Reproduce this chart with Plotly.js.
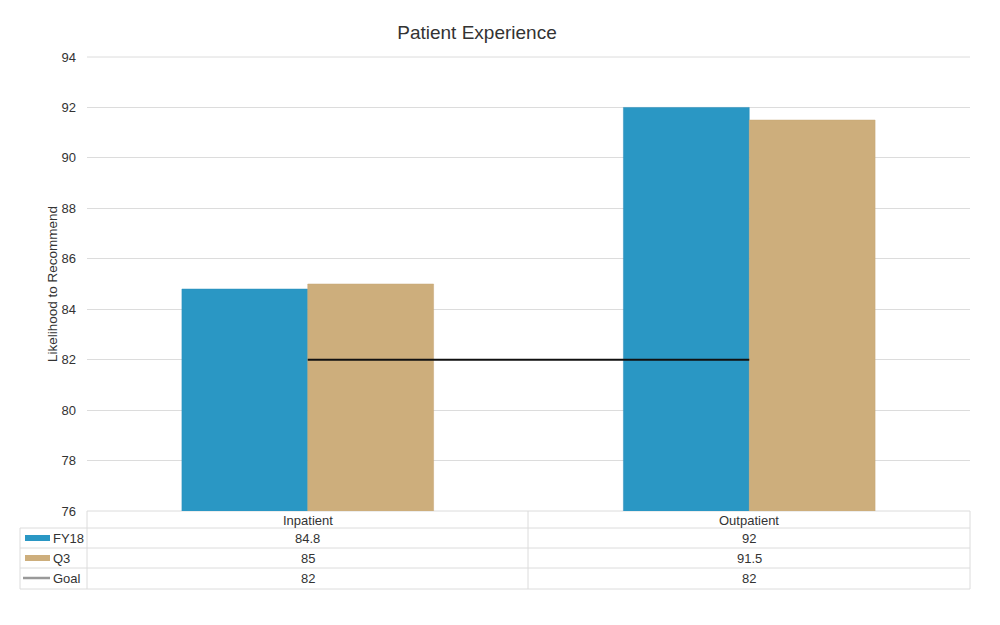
<!DOCTYPE html>
<html>
<head>
<meta charset="utf-8">
<script src="https://cdn.plot.ly/plotly-3.0.1.min.js"></script>
<style>html,body{margin:0;padding:0;background:#fff;}#chart{width:1000px;height:625px;}</style>
</head>
<body>
<div id="chart"></div>
<script>
const categories = ["Inpatient", "Outpatient"];
const fy18 = [84.8, 92];
const q3 = [85, 91.5];
const goal = [82, 82];
const seriesNames = ["FY18", "Q3", "Goal"];
const yTicks = [76, 78, 80, 82, 84, 86, 88, 90, 92, 94];

const BLUE = "#2a97c4", TAN = "#cdae7c", GRID = "#dcdcdc", TXT = "#333333";
const W = 1000, H = 625, L = 87, R = 970, T = 57, B = 511;
const px = v => (v - L) / (R - L);
const py = v => (B - v) / (B - T);

const traces = [
  {type: "bar", name: seriesNames[0], x: categories, y: fy18, marker: {color: BLUE, line: {color: "#2a8fbb", width: 0.5}}, showlegend: false},
  {type: "bar", name: seriesNames[1], x: categories, y: q3, marker: {color: TAN, line: {color: "#c6a674", width: 0.5}}, showlegend: false},
  {type: "scatter", mode: "lines", name: seriesNames[2], x: categories, y: goal, line: {color: "#111", width: 2}, showlegend: false}
];

const shapes = [];
const annotations = [];
const line = (x0, y0, x1, y1, color, width) => shapes.push({type: "line", xref: "paper", yref: "paper", x0: px(x0), y0: py(y0), x1: px(x1), y1: py(y1), line: {color: color || GRID, width: width || 1}, layer: "below"});
const text = (x, y, t, anchor) => annotations.push({xref: "paper", yref: "paper", x: px(x), y: py(y), text: t, showarrow: false, xanchor: anchor || "center", yanchor: "middle", font: {family: "Liberation Sans, Arial, sans-serif", size: 13, color: TXT}});

// top gridline at axis maximum
line(87, 57, 970, 57);

// table grid
const rowY = [511, 528, 548, 568, 589];
const colX = [20, 87, 528, 970];
line(87, 511, 970, 511);
for (let i = 1; i < rowY.length; i++) line(20, rowY[i], 970, rowY[i]);
line(20, 528, 20, 589);
line(87, 511, 87, 589);
line(528, 511, 528, 589);
line(970, 511, 970, 589);

// header
categories.forEach((c, i) => text((colX[i + 1] + colX[i + 2]) / 2, 520, c));
// rows
const rows = [fy18, q3, goal];
rows.forEach((vals, r) => {
  const yc = (rowY[r + 1] + rowY[r + 2]) / 2;
  vals.forEach((v, i) => text((colX[i + 1] + colX[i + 2]) / 2, yc, String(v)));
  text(51, yc, seriesNames[r], "left");
});
// legend swatches
shapes.push({type: "rect", xref: "paper", yref: "paper", x0: px(25), x1: px(50), y0: py(541), y1: py(535), fillcolor: BLUE, line: {width: 0}});
shapes.push({type: "rect", xref: "paper", yref: "paper", x0: px(25), x1: px(50), y0: py(561), y1: py(555), fillcolor: TAN, line: {width: 0}});
shapes.push({type: "line", xref: "paper", yref: "paper", x0: px(23), x1: px(50), y0: py(578), y1: py(578), line: {color: "#999", width: 2.5}});

const layout = {
  width: W, height: H,
  margin: {l: L, r: W - R, t: T, b: H - B, pad: 0},
  paper_bgcolor: "#fff", plot_bgcolor: "#fff",
  font: {family: "Liberation Sans, Arial, sans-serif", size: 13, color: TXT},
  title: {text: "Patient Experience", x: 0.477, xref: "container", xanchor: "center", y: 1 - 32 / H, yref: "container", yanchor: "middle", font: {size: 19, color: "#333"}},
  barmode: "group", bargap: 0.43, bargroupgap: 0,
  xaxis: {type: "category", showticklabels: false, showgrid: false, zeroline: false, showline: false, ticks: ""},
  yaxis: {range: [76, 94], tickvals: yTicks, ticktext: yTicks.map(String), showgrid: true, gridcolor: GRID, gridwidth: 1, zeroline: false, showline: false, ticks: "", ticklabelstandoff: 10,
    title: {text: "Likelihood to Recommend", standoff: 0, font: {size: 13.5, color: TXT}}, tickfont: {size: 13, color: TXT}},
  shapes: shapes,
  annotations: annotations
};

Plotly.newPlot("chart", traces, layout, {displayModeBar: false, staticPlot: true});
</script>
</body>
</html>
